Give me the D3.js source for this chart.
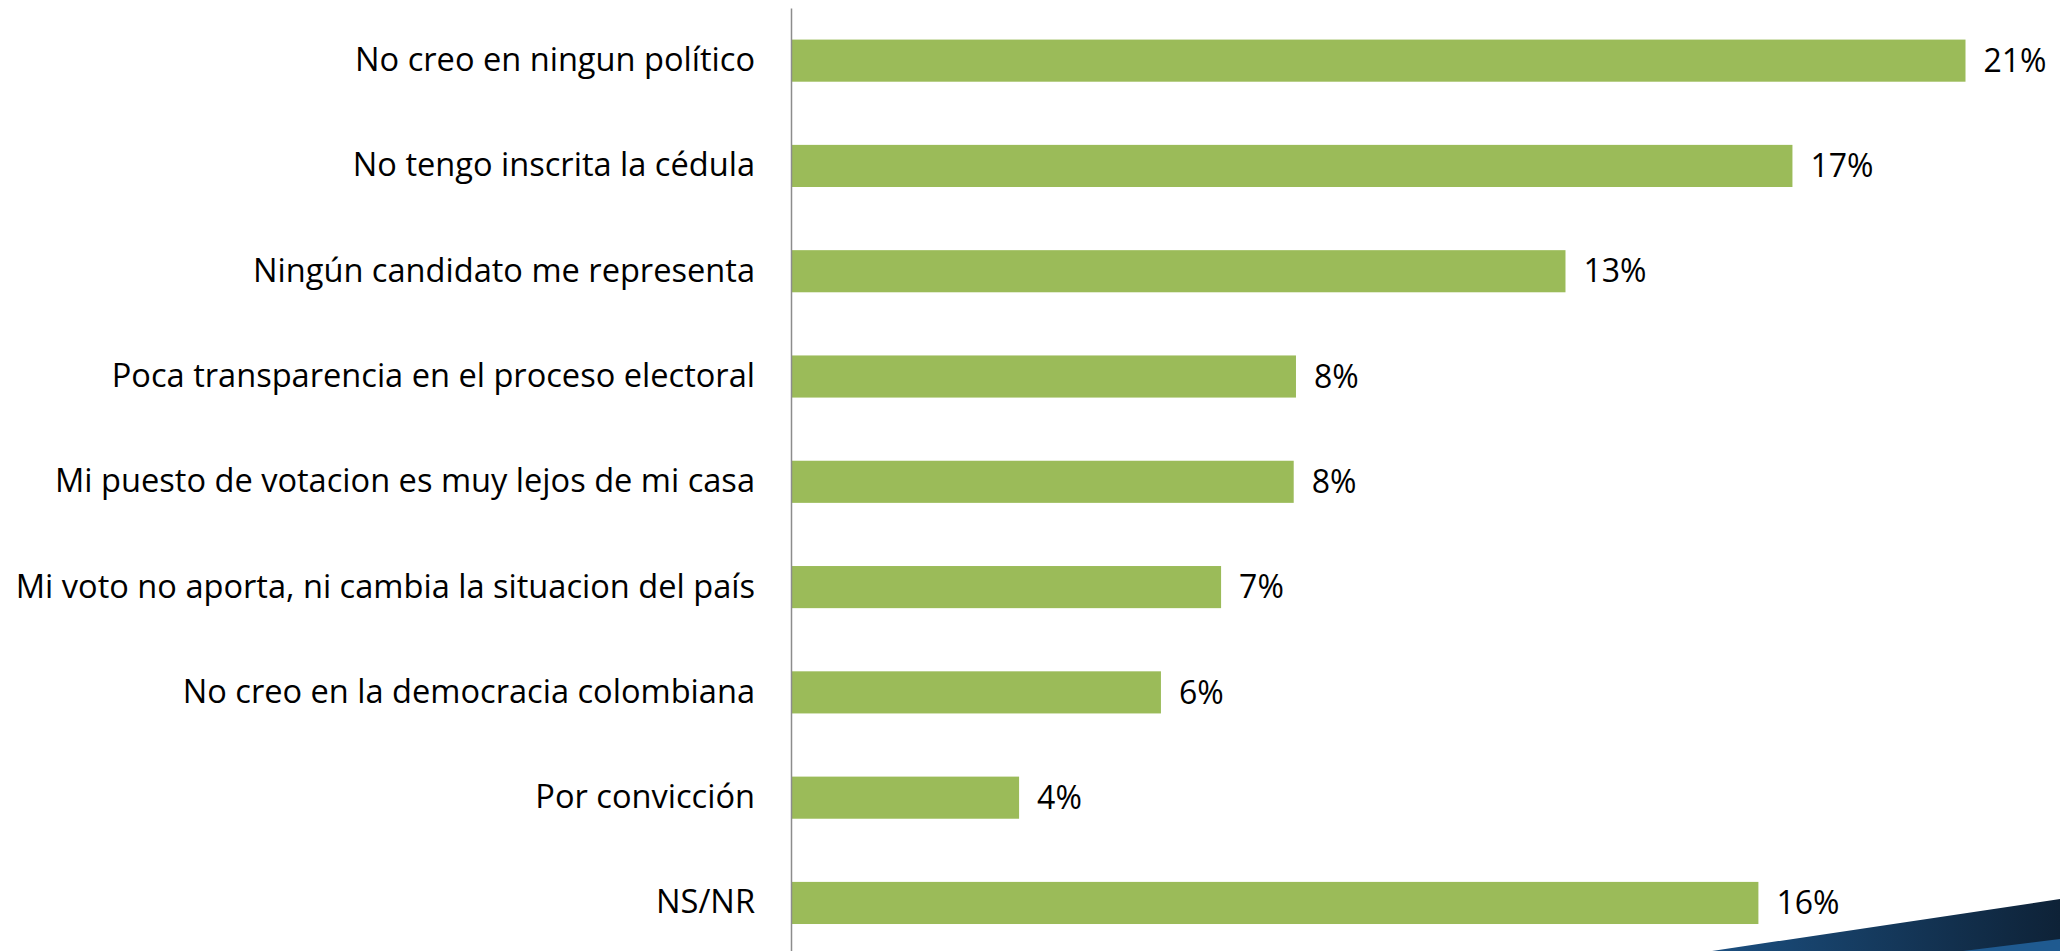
<!DOCTYPE html>
<html>
<head>
<meta charset="utf-8">
<script src="https://cdn.jsdelivr.net/npm/d3@7"></script>
<style>
  html, body { margin: 0; padding: 0; background: #fff; overflow: hidden; }
  svg { display: block; }
  .axis text { font-family: "Open Sans", sans-serif; font-size: 32.6px; fill: #000; }
  .axis path { stroke: #8c8c8c; stroke-width: 1.5; }
  .valueLabel { font-family: "Open Sans", sans-serif; font-size: 32px; fill: #000; }
</style>
</head>
<body>
<script>
// Reasons for not voting (categories, top to bottom)
var categories = [
  "No creo en ningun político",
  "No tengo inscrita la cédula",
  "Ningún candidato me representa",
  "Poca transparencia en el proceso electoral",
  "Mi puesto de votacion es muy lejos de mi casa",
  "Mi voto no aporta, ni cambia la situacion del país",
  "No creo en la democracia colombiana",
  "Por convicción",
  "NS/NR"
];

// Bar lengths (%)
var values = [20.7, 17.65, 13.65, 8.9, 8.86, 7.58, 6.52, 4.02, 17.05];

// Printed data labels
var valueLabels = ["21%", "17%", "13%", "8%", "8%", "7%", "6%", "4%", "16%"];

var svg_Width = 2060;
var svg_Height = 951;

var margin_for_chart = { top: 8, left: 791 };

var svg = d3.select("body")
  .append("svg")
  .attr("width", svg_Width)
  .attr("height", svg_Height);

// Decorative blue swoosh in the bottom right corner
var defs = svg.append("defs");
var grad = defs.append("linearGradient")
  .attr("id", "swooshGrad")
  .attr("x1", "0%").attr("x2", "100%").attr("y1", "0%").attr("y2", "0%");
grad.append("stop").attr("offset", "0%").attr("stop-color", "#1b4f80");
grad.append("stop").attr("offset", "100%").attr("stop-color", "#0e2237");

svg.append("path")
  .attr("d", "M1712,951 L2060,899 L2060,951 Z")
  .attr("fill", "url(#swooshGrad)");
svg.append("path")
  .attr("d", "M1963,951 L2060,939 L2060,951 Z")
  .attr("fill", "#1f5a90");

var chartGroup = svg.append("g")
  .attr("transform", `translate(${margin_for_chart.left}, 0)`);

var y_band_scale = d3.scaleBand()
  .domain(categories)
  .range([margin_for_chart.top, 955.6])
  .paddingInner(0.6)
  .paddingOuter(0.3);

var x_linear_scale = d3.scaleLinear()
  .domain([0, 20.7])
  .range([0, 1174.5]);

// bars
chartGroup.selectAll("rect.bar")
  .data(values)
  .enter()
  .append("rect")
  .attr("class", "bar")
  .attr("x", 0)
  .attr("y", (d, i) => y_band_scale(categories[i]))
  .attr("width", d => x_linear_scale(d))
  .attr("height", y_band_scale.bandwidth())
  .attr("fill", "#9bbb59");

// value labels
chartGroup.selectAll("text.valueLabel")
  .data(values)
  .enter()
  .append("text")
  .attr("class", "valueLabel")
  .attr("x", d => x_linear_scale(d) + 18)
  .attr("y", (d, i) => y_band_scale(categories[i]) + y_band_scale.bandwidth() / 2)
  .attr("dy", "0.35em")
  .text((d, i) => valueLabels[i]);

// left axis with the category names
var left_Axis = d3.axisLeft(y_band_scale)
  .tickSize(0)
  .tickSizeOuter(0)
  .tickPadding(36);

chartGroup.append("g")
  .attr("class", "axis")
  .call(left_Axis);
</script>
</body>
</html>
